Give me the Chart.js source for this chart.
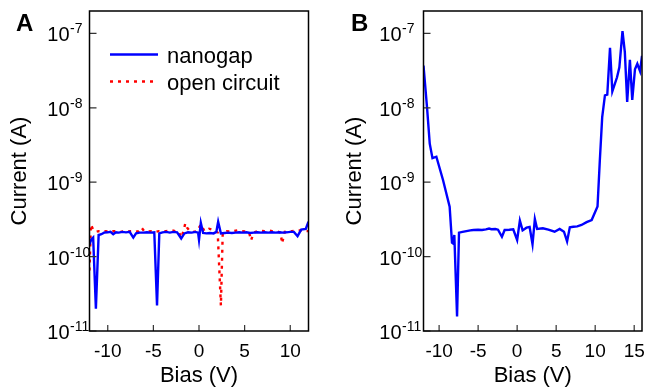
<!DOCTYPE html>
<html>
<head>
<meta charset="utf-8">
<script src="https://cdn.jsdelivr.net/npm/chart.js@4/dist/chart.umd.min.js"></script>
<style>
  body { margin: 0; background: #fff; }
  #wrap { position: relative; width: 649px; height: 390px; }
  canvas { position: absolute; top: 0; }
  #chartA { left: 0; }
  #chartB { left: 320px; }
</style>
</head>
<body>
<div id="wrap">
  <canvas id="chartA" width="320" height="390"></canvas>
  <canvas id="chartB" width="329" height="390"></canvas>
</div>
<script>
// panel A, nanogap (blue)
const biasNanogap = [-12.0, -11.8, -11.6, -11.3, -11.0, -10.7, -10.4, -10.0, -9.7, -9.4, -9.1, -8.8, -8.4, -8.0,
  -7.6, -7.2, -6.9, -6.5, -6.1, -5.7, -5.3, -4.9, -4.6, -4.35, -4.0, -3.6, -3.2, -2.8, -2.4, -1.95, -1.6, -1.2,
  -0.8, -0.4, -0.1, 0.0, 0.2, 0.45, 0.8, 1.2, 1.6, 1.9, 2.1, 2.4, 2.8, 3.2, 3.6, 4.0, 4.4, 4.8, 5.2, 5.6, 6.0,
  6.4, 6.8, 7.2, 7.6, 8.0, 8.4, 8.8, 9.2, 9.6, 10.0, 10.4, 10.8, 11.2, 11.7, 12.0];
const currentNanogap = [1.45e-10, 1.7e-10, 1.8e-10, 2.0e-11, 1.95e-10, 2.0e-10, 2.1e-10, 2.12e-10, 2.15e-10, 2.0e-10,
  2.12e-10, 2.1e-10, 2.15e-10, 2.12e-10, 2.15e-10, 1.8e-10, 2.05e-10, 2.1e-10, 2.1e-10, 2.12e-10, 2.1e-10, 2.12e-10,
  2.2e-11, 2.05e-10, 2.12e-10, 2.15e-10, 2.1e-10, 2.15e-10, 2.12e-10, 1.75e-10, 2.05e-10, 2.12e-10, 2.1e-10, 2.15e-10,
  2.1e-10, 1.68e-10, 2.85e-10, 2.08e-10, 2.05e-10, 2.08e-10, 2.05e-10, 2.15e-10, 2.95e-10, 2.05e-10, 2.08e-10, 2.1e-10,
  2.08e-10, 2.1e-10, 2.12e-10, 2.1e-10, 2.12e-10, 2.08e-10, 2.1e-10, 2.12e-10, 2.1e-10, 2.12e-10, 2.1e-10, 2.12e-10,
  2.1e-10, 2.12e-10, 2.1e-10, 2.12e-10, 2.15e-10, 2.15e-10, 1.88e-10, 2.3e-10, 2.35e-10, 2.95e-10];

// panel A, open circuit (red dotted)
const biasOpen = [-12.0, -11.85, -11.6, -11.3, -11.0, -10.6, -10.2, -9.8, -9.4, -9.0, -8.6, -8.2, -7.8, -7.4, -7.0,
  -6.6, -6.3, -6.0, -5.6, -5.2, -4.8, -4.4, -4.0, -3.6, -3.0, -2.6, -2.2, -1.95, -1.7, -1.5, -1.3, -1.0, -0.6, -0.2,
  0.2, 0.6, 1.1, 1.7, 2.05, 2.4, 2.6, 3.0, 3.4, 3.8, 4.2, 4.6, 5.0, 5.5, 5.7, 6.0, 6.4, 6.8, 7.2, 7.6, 8.0, 8.5,
  8.95, 9.1, 9.4, 9.8, 10.2, 10.6, 11.0, 11.5, 12.0];
const currentOpen = [6.5e-11, 2.7e-10, 2.3e-10, 2.15e-10, 2.2e-10, 2.15e-10, 2.2e-10, 2.15e-10, 2.2e-10, 2.18e-10,
  2.15e-10, 2.2e-10, 2.18e-10, 2.2e-10, 2.15e-10, 2.2e-10, 2.45e-10, 2.2e-10, 2.18e-10, 2.2e-10, 2.15e-10, 2.2e-10,
  2.18e-10, 2.2e-10, 2.25e-10, 2.2e-10, 2.15e-10, 1.8e-10, 2.2e-10, 2.8e-10, 2.45e-10, 2.2e-10, 2.15e-10, 2.2e-10,
  2.7e-10, 2.2e-10, 2.37e-10, 2.25e-10, 2.1e-10, 2.2e-11, 2.1e-10, 2.2e-10, 2.18e-10, 2.2e-10, 2.25e-10, 2.2e-10,
  2.18e-10, 2.1e-10, 1.65e-10, 2.1e-10, 2.2e-10, 2.22e-10, 2.2e-10, 2.25e-10, 2.2e-10, 2.2e-10, 2.1e-10, 1.5e-10,
  2.15e-10, 2.2e-10, 2.2e-10, 2.25e-10, 2.25e-10, 2.2e-10, 2.2e-10];

// panel B
const biasB = [-12.0, -11.55, -11.2, -10.85, -10.35, -9.5, -8.65, -8.35, -8.2, -8.05, -7.7, -7.45, -7.0, -6.5, -6.0,
  -5.6, -5.0, -4.5, -4.0, -3.6, -3.3, -2.8, -2.45, -1.95, -1.6, -1.0, -0.5, 0.0, 0.35, 0.7, 1.2, 1.6, 1.97, 2.27,
  2.56, 3.3, 4.0, 4.8, 5.45, 6.0, 6.4, 6.75, 7.2, 7.7, 8.25, 8.9, 9.55, 10.3, 10.6, 10.9, 11.25, 11.55, 11.9, 12.2,
  12.8, 13.1, 13.5, 13.8, 14.1, 14.45, 14.75, 15.1, 15.4, 15.75, 16.0];
const currentB = [3.7e-8, 1.02e-8, 3.3e-9, 2.1e-9, 2.2e-9, 1.07e-9, 4.7e-10, 1.54e-10, 1.5e-10, 1.95e-10, 1.57e-11,
  2.1e-10, 2.15e-10, 2.2e-10, 2.25e-10, 2.28e-10, 2.3e-10, 2.28e-10, 2.32e-10, 2.38e-10, 2.33e-10, 2.35e-10, 2.3e-10,
  1.85e-10, 2.28e-10, 2.3e-10, 2.33e-10, 1.67e-10, 3.04e-10, 2.25e-10, 2.45e-10, 2.5e-10, 1.47e-10, 3.2e-10, 2.35e-10,
  2.4e-10, 2.3e-10, 2.16e-10, 2.35e-10, 2.16e-10, 1.6e-10, 2.48e-10, 2.52e-10, 2.55e-10, 2.66e-10, 2.9e-10, 3.1e-10,
  4.7e-10, 2.0e-9, 7.5e-9, 1.47e-8, 1.5e-8, 6.4e-8, 1.66e-8, 2.57e-8, 3.5e-8, 1.07e-7, 5.6e-8, 1.2e-8, 4.4e-8,
  1.28e-8, 3.3e-8, 3.9e-8, 3.1e-8, 5.0e-8];

const ticksXA = [-10, -5, 0, 5, 10];
const ticksXB = [-10, -5, 0, 5, 10, 15];
const ticksY = [1e-11, 1e-10, 1e-9, 1e-8, 1e-7];

const FONT = "'Liberation Sans', Arial, sans-serif";

const pts = (xs, ys) => xs.map((x, i) => ({ x: x, y: ys[i] }));

// box, inner ticks, 10^n labels and panel letter
const framePlugin = {
  id: 'frame',
  afterDatasetsDraw(chart, args, opts) {
    const { ctx, chartArea: a, scales } = chart;
    ctx.save();
    ctx.strokeStyle = '#333';
    ctx.lineWidth = 1.2;
    ctx.beginPath();
    scales.x.ticks.forEach(t => {
      const px = scales.x.getPixelForValue(t.value);
      ctx.moveTo(px, a.bottom);
      ctx.lineTo(px, a.bottom - 6);
    });
    scales.y.ticks.forEach(t => {
      const py = scales.y.getPixelForValue(t.value);
      ctx.moveTo(a.left, py);
      ctx.lineTo(a.left + 7, py);
    });
    ctx.stroke();
    ctx.strokeStyle = '#000';
    ctx.lineWidth = 1.5;
    ctx.strokeRect(a.left, a.top, a.right - a.left, a.bottom - a.top);

    ctx.fillStyle = '#000';
    ctx.textBaseline = 'alphabetic';
    scales.y.ticks.forEach(t => {
      const py = scales.y.getPixelForValue(t.value);
      const e = Math.round(Math.log10(t.value));
      const bx = a.left - opts.labelGap;
      ctx.font = '20px ' + FONT;
      ctx.textAlign = 'right';
      ctx.fillText('10', bx, py + 8);
      ctx.font = '14px ' + FONT;
      ctx.textAlign = 'left';
      ctx.fillText(String(e), bx + 0.5, py);
    });
    ctx.font = 'bold 24px ' + FONT;
    ctx.textAlign = 'left';
    ctx.fillText(opts.letter, opts.letterX, 31);
    ctx.restore();
  }
};

const legendPlugin = {
  id: 'inLegend',
  afterDatasetsDraw(chart, args, opts) {
    if (!opts.show) return;
    const ctx = chart.ctx;
    chart.data.datasets.forEach((ds, i) => {
      const y = opts.y + i * opts.rowGap;
      ctx.save();
      ctx.strokeStyle = ds.borderColor;
      ctx.lineWidth = ds.borderWidth;
      ctx.setLineDash(ds.borderDash || []);
      ctx.beginPath();
      ctx.moveTo(opts.x, y);
      ctx.lineTo(opts.x + 48, y);
      ctx.stroke();
      ctx.setLineDash([]);
      ctx.fillStyle = '#000';
      ctx.font = '22px ' + FONT;
      ctx.textBaseline = 'alphabetic';
      ctx.fillText(ds.label, opts.x + 57, y + 8);
      ctx.restore();
    });
  }
};

function buildChart(id, datasets, xMin, xMax, xTicks, padLeft, padRight, yWidth, letter, letterX, labelGap, showLegend) {
  return new Chart(document.getElementById(id), {
    type: 'line',
    data: { datasets: datasets },
    options: {
      responsive: false,
      animation: false,
      layout: { padding: { left: padLeft, right: padRight, top: 11, bottom: 1 } },
      elements: { point: { radius: 0 }, line: { tension: 0 } },
      plugins: {
        legend: { display: false },
        tooltip: { enabled: false },
        frame: { letter: letter, letterX: letterX, labelGap: labelGap },
        inLegend: { show: showLegend, x: 110, y: 54.5, rowGap: 27 }
      },
      scales: {
        x: {
          type: 'linear',
          min: xMin,
          max: xMax,
          afterBuildTicks: s => { s.ticks = xTicks.map(v => ({ value: v })); },
          afterFit: s => { s.height = 58; s.paddingLeft = 0; s.paddingRight = 0; },
          grid: { display: false, drawTicks: false },
          border: { display: false },
          ticks: { font: { family: FONT, size: 19 }, color: '#000', padding: 9, maxRotation: 0, autoSkip: false },
          title: { display: true, text: 'Bias (V)', color: '#000', font: { family: FONT, size: 22 }, padding: { top: 0, bottom: 0 } }
        },
        y: {
          type: 'logarithmic',
          min: 1e-11,
          max: 2e-7,
          afterBuildTicks: s => { s.ticks = ticksY.map(v => ({ value: v })); },
          afterFit: s => { s.width = yWidth; },
          grid: { display: false, drawTicks: false },
          border: { display: false },
          ticks: { display: false },
          title: { display: true, text: 'Current (A)', color: '#000', font: { family: FONT, size: 22 }, padding: { top: 0, bottom: 0 } }
        }
      }
    },
    plugins: [framePlugin, legendPlugin]
  });
}

buildChart('chartA', [
  { label: 'nanogap', data: pts(biasNanogap, currentNanogap), borderColor: '#0000ff', borderWidth: 2.4 },
  { label: 'open circuit', data: pts(biasOpen, currentOpen), borderColor: '#ff0000', borderWidth: 2.4, borderDash: [3, 5] }
], -12, 12, ticksXA, 7, 11.5, 82.5, 'A', 16, 20, true);

buildChart('chartB', [
  { label: 'nanogap', data: pts(biasB, currentB), borderColor: '#0000ff', borderWidth: 2.4 }
], -12, 16, ticksXB, 22, 7, 81.5, 'B', 31, 22, false);
</script>
</body>
</html>
